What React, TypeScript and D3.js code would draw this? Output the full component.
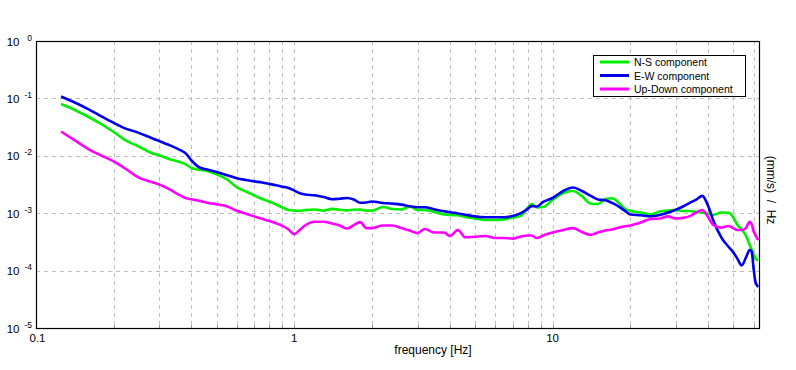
import React from 'react'
import * as d3 from 'd3'

// frequency axis (Hz) shared by all three spectra
const freq = [
  0.125, 0.14, 0.16, 0.18, 0.2, 0.22, 0.25, 0.28, 0.3, 0.33,
  0.36, 0.38, 0.4, 0.43, 0.46, 0.5, 0.55, 0.6, 0.65, 0.7,
  0.75, 0.8, 0.85, 0.9, 0.95, 1.0, 1.05, 1.1, 1.2, 1.3,
  1.4, 1.5, 1.6, 1.7, 1.8, 1.9, 2.0, 2.2, 2.4, 2.6,
  2.8, 3.0, 3.2, 3.5, 3.8, 4.0, 4.3, 4.6, 5.0, 5.5,
  6.0, 6.5, 7.0, 7.5, 8.0, 8.3, 8.7, 9.2, 10, 11,
  12, 13, 14, 15, 16, 17, 18, 19, 20, 22,
  24, 26, 28, 30, 32, 34, 36, 38, 40, 42,
  45, 48, 50, 52, 54, 56, 58, 59, 60, 61,
  62.5,
]

const nsComp = [
  0.0798, 0.0641, 0.0474, 0.0351, 0.026, 0.0192, 0.0145, 0.0112, 0.0102, 0.00869,
  0.0078, 0.00711, 0.00613, 0.0057, 0.00543, 0.00476, 0.00386, 0.00281, 0.00239, 0.00203,
  0.00177, 0.0016, 0.00142, 0.00126, 0.00114, 0.00111, 0.0011, 0.00113, 0.00116, 0.00111,
  0.00119, 0.00115, 0.00112, 0.00115, 0.00116, 0.00111, 0.00111, 0.00128, 0.00118, 0.00116,
  0.00131, 0.00114, 0.00114, 0.00104, 0.00095, 0.00093, 0.00092, 0.00086, 0.00081, 0.00076,
  0.00076, 0.00078, 0.00084, 0.00089, 0.00123, 0.00145, 0.00126, 0.00128, 0.0017, 0.00225,
  0.00244, 0.00198, 0.00148, 0.00145, 0.00177, 0.00182, 0.00154, 0.00121, 0.0011, 0.00103,
  0.00095, 0.00107, 0.00111, 0.00114, 0.00109, 0.00109, 0.00105, 0.00102, 0.00098, 0.00094,
  0.00103, 0.00102, 0.00086, 0.00062, 0.00052, 0.00041, 0.00028, 0.00023, 0.00019, 0.000166,
  0.000149,
]

const ewComp = [
  0.108, 0.0865, 0.0643, 0.048, 0.0374, 0.0304, 0.0251, 0.0204, 0.0181, 0.0152,
  0.0127, 0.011, 0.00828, 0.00625, 0.00577, 0.00522, 0.00459, 0.00407, 0.00379, 0.00358,
  0.00343, 0.00324, 0.00306, 0.0029, 0.00275, 0.00248, 0.00222, 0.00212, 0.00205, 0.00191,
  0.00175, 0.00179, 0.00184, 0.00173, 0.00152, 0.00154, 0.0016, 0.00151, 0.00147, 0.00141,
  0.00132, 0.00127, 0.00127, 0.00116, 0.00108, 0.00104, 0.00099, 0.00094, 0.00088, 0.00085,
  0.00085, 0.00085, 0.00089, 0.00099, 0.00118, 0.00133, 0.00131, 0.00158, 0.00184, 0.00244,
  0.00281, 0.00244, 0.00202, 0.00173, 0.00168, 0.00151, 0.00132, 0.00111, 0.00095, 0.00092,
  0.00088, 0.00093, 0.00103, 0.00115, 0.00131, 0.00151, 0.00173, 0.002, 0.00135, 0.00073,
  0.00038, 0.00026, 0.00021, 0.00016, 0.000123, 0.000166, 0.000229, 0.000215, 0.000111, 0.0000641,
  0.0000518,
]

const udComp = [
  0.0265, 0.0191, 0.013, 0.01, 0.00802, 0.00613, 0.00417, 0.0035, 0.00316, 0.00258,
  0.00207, 0.00184, 0.00175, 0.00164, 0.00152, 0.00143, 0.00131, 0.0011, 0.00098, 0.00088,
  0.0008, 0.00073, 0.00067, 0.0006, 0.00052, 0.00043, 0.00051, 0.00061, 0.00071, 0.00071,
  0.00066, 0.00061, 0.00054, 0.00062, 0.0007, 0.00055, 0.00055, 0.00061, 0.00061, 0.00055,
  0.0005, 0.00045, 0.00053, 0.00046, 0.00046, 0.0004, 0.00051, 0.00038, 0.00039, 0.0004,
  0.00037, 0.00037, 0.00036, 0.00039, 0.00041, 0.00041, 0.00037, 0.00041, 0.00046, 0.00051,
  0.00055, 0.00047, 0.00042, 0.00046, 0.0005, 0.00052, 0.00056, 0.00059, 0.00061, 0.00069,
  0.00079, 0.00081, 0.00088, 0.00081, 0.00083, 0.00089, 0.00103, 0.00114, 0.00086, 0.00062,
  0.00056, 0.0006, 0.00055, 0.00051, 0.00051, 0.00055, 0.00071, 0.00065, 0.00049, 0.00042,
  0.00034,
]

const seriesNames = ['N-S component', 'E-W component', 'Up-Down component']
const seriesValues = [nsComp, ewComp, udComp]
const seriesColors = ['#00ee00', '#0000ee', '#ff00ff']

const yExponents = [0, -1, -2, -3, -4, -5]
const xTickValues = [0.1, 1, 10]
const xTickText = ['0.1', '1', '10']

const W = 796
const H = 370
const M = { left: 36, right: 759, top: 41, bottom: 328 }
const FONT = '"Liberation Sans", Arial, sans-serif'

export default function App() {
  const x = d3.scaleLog().domain([0.1, 63]).range([M.left, M.right])
  const y = d3.scaleLog().domain([1, 1e-5]).range([M.top, M.bottom])

  const line = d3.line<number[]>()
    .x(d => x(d[0]))
    .y(d => y(d[1]))
    .curve(d3.curveMonotoneX)

  const vGrid = x.ticks().filter(t => t > 0.1 && t < 63)
  const hGrid = yExponents.slice(1, -1).map(e => Math.pow(10, e))

  return (
    <div style={{ position: 'fixed', left: 0, top: 0 }}>
      <svg width={W} height={H} style={{ display: 'block', background: '#fff' }}>
        <rect x={0} y={0} width={W} height={H} fill="#fff" />
        {/* grid */}
        {vGrid.map((t, i) => (
          <line key={'v' + i} x1={Math.round(x(t)) + 0.5} x2={Math.round(x(t)) + 0.5}
            y1={M.top} y2={M.bottom} stroke="#bdbdbd" strokeDasharray="4,4" />
        ))}
        {hGrid.map((t, i) => (
          <line key={'h' + i} x1={M.left} x2={M.right} y1={Math.round(y(t)) + 0.5}
            y2={Math.round(y(t)) + 0.5} stroke="#bdbdbd" strokeDasharray="4,4" />
        ))}
        {vGrid.map((t, i) => (
          <line key={'mt' + i} x1={Math.round(x(t)) + 0.5} x2={Math.round(x(t)) + 0.5}
            y1={M.bottom - 3} y2={M.bottom} stroke="#999" />
        ))}

        {/* spectra */}
        {seriesValues.map((vals, si) => {
          const pts = freq.map((f, i) => [f, vals[i]]).filter(p => p[1] != null)
          return (
            <path key={si} d={line(pts) || ''} fill="none" stroke={seriesColors[si]}
              strokeWidth={2.6} strokeLinejoin="round" />
          )
        })}

        {/* frame */}
        <rect x={M.left + 0.5} y={M.top + 0.5} width={M.right - M.left} height={M.bottom - M.top}
          fill="none" stroke="#000" strokeWidth={1.2} />

        {/* y tick labels */}
        {yExponents.map((e, i) => {
          const yy = y(Math.pow(10, e))
          return (
            <g key={'yl' + i} fontFamily={FONT}>
              <text x={19.5} y={yy + 4.5} fontSize={11.5} textAnchor="end">10</text>
              <text x={32} y={yy - 0.5} fontSize={8.5} textAnchor="end">{String(e)}</text>
            </g>
          )
        })}

        {/* x tick labels */}
        {xTickValues.map((t, i) => (
          <text key={'xl' + i} x={x(t) + (i === 0 ? 1.5 : 0)} y={342} fontSize={11.5}
            fontFamily={FONT} textAnchor="middle">{xTickText[i]}</text>
        ))}

        <text x={433} y={354} fontSize={12} fontFamily={FONT} textAnchor="middle">frequency [Hz]</text>
        <text transform="translate(767,190) rotate(90)" fontSize={12} fontFamily={FONT}
          textAnchor="middle" style={{ whiteSpace: 'pre' }}>(mm/s)  /  Hz</text>

        {/* legend */}
        <rect x={593.5} y={55.5} width={152} height={41} fill="#fff" stroke="#000" />
        {seriesNames.map((n, i) => (
          <g key={'lg' + i}>
            <line x1={600} x2={629} y1={62 + i * 13.5} y2={62 + i * 13.5}
              stroke={seriesColors[i]} strokeWidth={3} />
            <text x={634} y={66 + i * 13.5} fontSize={10.5} fontFamily={FONT}>{n}</text>
          </g>
        ))}
      </svg>
    </div>
  )
}
